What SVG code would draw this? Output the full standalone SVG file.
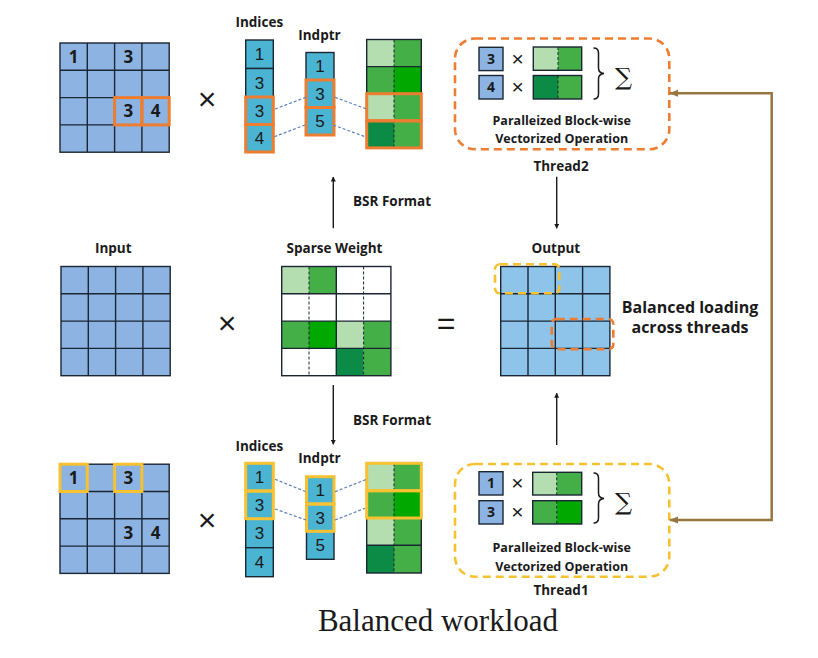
<svg xmlns="http://www.w3.org/2000/svg" width="818" height="658" viewBox="0 0 818 658">
<style>
.bg{fill:#ffffff}
.ln{stroke:#1b2633;stroke-width:1.4;fill:none}
.dl{stroke:#1b2633;stroke-width:1;stroke-dasharray:3 2;fill:none}
.blue{fill:#8DB3E2}
.out{fill:#8EC3EA}
.cyan{fill:#4BB4D2;stroke:#1b2633;stroke-width:1.4}
.L{fill:#B4DEAF}.M{fill:#45AF47}.B{fill:#00A800}.D{fill:#0B8B45}.W{fill:#ffffff}
.hlo{fill:none;stroke:#ED7D31;stroke-width:3}
.hly{fill:none;stroke:#F7C131;stroke-width:3}
.lbl{font-family:"Open Sans","Noto Sans",sans-serif;font-weight:bold;font-size:13.5px;fill:#1a1a1a;text-anchor:middle}
.num{font-family:"Open Sans","Noto Sans",sans-serif;font-weight:bold;font-size:17px;fill:#1a1a1a;text-anchor:middle}
.tn{font-family:"Open Sans","Noto Sans",sans-serif;font-weight:bold;font-size:14px;fill:#1a1a1a;text-anchor:middle}
.idx{font-family:"Liberation Sans",Arial,sans-serif;font-size:17px;fill:#1a1a1a;text-anchor:middle}
.sym{font-family:"Liberation Sans",Arial,sans-serif;fill:#1a1a1a;text-anchor:middle}
.big{font-family:"Open Sans","Noto Sans",sans-serif;font-weight:bold;font-size:16px;fill:#1a1a1a;text-anchor:middle}
.op{font-family:"Open Sans","Noto Sans",sans-serif;font-weight:bold;font-size:12.5px;fill:#1a1a1a;text-anchor:middle}
.cap{font-family:"Liberation Serif","Times New Roman",serif;font-size:31px;fill:#1a1a1a;text-anchor:middle}
.dc{stroke:#5A82BE;stroke-width:1.2;stroke-dasharray:3 2;fill:none}
.arr{stroke:#1a1a1a;stroke-width:1.4;fill:none;marker-end:url(#ah)}
.brown{stroke:#97773F;stroke-width:2.5;fill:none;marker-start:url(#bh);marker-end:url(#bh)}
.tbo{fill:none;stroke:#ED7D31;stroke-width:2.6;stroke-dasharray:8 5}
.tby{fill:none;stroke:#F7C131;stroke-width:2.6;stroke-dasharray:8 5}
.sq{fill:#8DB3E2;stroke:#1b2633;stroke-width:1.4}
.gb{fill:none;stroke:#1b2633;stroke-width:1.4}
</style>
<defs>
<g id="grid4"><path class="ln" d="M27.3 0V109.2M54.6 0V109.2M81.9 0V109.2M0 27.3H109.2M0 54.6H109.2M0 81.9H109.2"/><rect class="ln" width="109.2" height="109.2"/></g>
<marker id="ah" viewBox="0 0 10 10" refX="9" refY="5" markerWidth="5" markerHeight="5" markerUnits="userSpaceOnUse" orient="auto"><path d="M0 0L10 5L0 10z" fill="#1a1a1a"/></marker>
<marker id="bh" viewBox="0 0 10 10" refX="9" refY="5" markerWidth="9" markerHeight="9" markerUnits="userSpaceOnUse" orient="auto-start-reverse"><path d="M0 1L10 5L0 9z" fill="#97773F"/></marker>
</defs>
<rect class="bg" width="818" height="658"/>

<!-- Top row -->
<g id="top-matrix">
<rect class="blue" x="60" y="43" width="109.2" height="109.2"/>
<use href="#grid4" x="60" y="43"/>
<text class="num" x="73.6" y="62.7">1</text>
<text class="num" x="128.3" y="62.7">3</text>
<text class="num" x="128.3" y="117.3">3</text>
<text class="num" x="155.6" y="117.3">4</text>
<rect class="hlo" x="114.6" y="97.6" width="27.3" height="27.3"/>
<rect class="hlo" x="141.9" y="97.6" width="27.3" height="27.3"/>
</g>
<text class="sym" x="207" y="110" font-size="32">×</text>

<g id="top-indices">
<text class="lbl" x="259.3" y="26.5">Indices</text>
<rect class="cyan" x="245.7" y="40" width="27.6" height="28.5"/>
<rect class="cyan" x="245.7" y="68.5" width="27.6" height="28.5"/>
<rect class="cyan" x="245.7" y="97" width="27.6" height="27.5"/>
<rect class="cyan" x="245.7" y="124.5" width="27.6" height="27.5"/>
<text class="idx" x="259.5" y="60.3">1</text>
<text class="idx" x="259.5" y="88.8">3</text>
<text class="idx" x="259.5" y="116.8">3</text>
<text class="idx" x="259.5" y="144.3">4</text>
<rect class="hlo" x="245.7" y="97" width="27.6" height="27.5"/>
<rect class="hlo" x="245.7" y="124.5" width="27.6" height="27.5"/>
</g>
<g id="top-indptr">
<text class="lbl" x="319.5" y="39.7">Indptr</text>
<rect class="cyan" x="306" y="52.5" width="28" height="27.5"/>
<rect class="cyan" x="306" y="80" width="28" height="27.5"/>
<rect class="cyan" x="306" y="107.5" width="28" height="27.5"/>
<text class="idx" x="320" y="72.3">1</text>
<text class="idx" x="320" y="99.8">3</text>
<text class="idx" x="320" y="127.3">5</text>
<rect class="hlo" x="306" y="80" width="28" height="27.5"/>
<rect class="hlo" x="306" y="107.5" width="28" height="27.5"/>
</g>
<g id="top-blocks">
<rect class="L" x="366.7" y="39.5" width="27.3" height="27.1"/><rect class="M" x="394" y="39.5" width="27.3" height="27.1"/>
<rect class="M" x="366.7" y="66.6" width="27.3" height="27.1"/><rect class="B" x="394" y="66.6" width="27.3" height="27.1"/>
<rect class="L" x="366.7" y="93.7" width="27.3" height="27.1"/><rect class="M" x="394" y="93.7" width="27.3" height="27.1"/>
<rect class="D" x="366.7" y="120.8" width="27.3" height="27.1"/><rect class="M" x="394" y="120.8" width="27.3" height="27.1"/>
<path class="ln" d="M366.7 66.6H421.3M366.7 93.7H421.3M366.7 120.8H421.3"/>
<path class="dl" d="M394 39.5V147.9"/>
<rect class="ln" x="366.7" y="39.5" width="54.6" height="108.4"/>
<rect class="hlo" x="366.7" y="93.7" width="54.6" height="27.1"/>
<rect class="hlo" x="366.7" y="120.8" width="54.6" height="27.1"/>
</g>

<g id="thread2">
<rect class="tbo" x="455" y="38.5" width="214.3" height="110.8" rx="20"/>
<rect class="sq" x="479" y="47.3" width="24" height="23.3"/>
<rect class="sq" x="479" y="75.5" width="24" height="23.5"/>
<text class="tn" x="491" y="64.3">3</text>
<text class="tn" x="491" y="92.3">4</text>
<text class="sym" x="517.7" y="66" font-size="21">×</text>
<text class="sym" x="517.7" y="94" font-size="21">×</text>
<rect class="L" x="533.3" y="47" width="24.7" height="23.3"/><rect class="M" x="558" y="47" width="23.7" height="23.3"/>
<rect class="D" x="533.3" y="75.5" width="24.7" height="23.5"/><rect class="M" x="558" y="75.5" width="23.7" height="23.5"/>
<path class="dl" d="M558 47V70.3M558 75.5V99"/>
<rect class="gb" x="533.3" y="47" width="48.4" height="23.3"/>
<rect class="gb" x="533.3" y="75.5" width="48.4" height="23.5"/>
<path d="M593.5 48Q598.5 48 598.5 53V68Q598.5 73 604 73.5Q598.5 74 598.5 79V94Q598.5 99 593.5 99" fill="none" stroke="#1a1a1a" stroke-width="1.5"/>
<text x="623.5" y="85" font-family="'DejaVu Serif','Liberation Serif',serif" font-size="24" fill="#1a1a1a" text-anchor="middle">∑</text>
<text class="op" x="561.7" y="124.5">Paralleized Block-wise</text>
<text class="op" x="561.7" y="143">Vectorized Operation</text>
<text class="lbl" x="561" y="170.5">Thread2</text>
</g>

<!-- Middle row -->
<g id="input">
<text class="lbl" x="113.3" y="253">Input</text>
<rect class="blue" x="61" y="266.5" width="109.2" height="109.2"/>
<use href="#grid4" x="61" y="266.5"/>
</g>
<text class="sym" x="227" y="334" font-size="32">×</text>
<g id="sparse-weight">
<text class="lbl" x="334.5" y="253">Sparse Weight</text>
<rect class="W" x="281.7" y="266.5" width="109.2" height="109.2"/>
<rect class="L" x="281.7" y="266.5" width="27.3" height="27.3"/><rect class="M" x="309" y="266.5" width="27.3" height="27.3"/>
<rect class="M" x="281.7" y="321.1" width="27.3" height="27.3"/><rect class="B" x="309" y="321.1" width="27.3" height="27.3"/>
<rect class="L" x="336.3" y="321.1" width="27.3" height="27.3"/><rect class="M" x="363.6" y="321.1" width="27.3" height="27.3"/>
<rect class="D" x="336.3" y="348.4" width="27.3" height="27.3"/><rect class="M" x="363.6" y="348.4" width="27.3" height="27.3"/>
<path class="ln" d="M336.3 266.5V375.7M281.7 293.8H390.9M281.7 321.1H390.9M281.7 348.4H390.9"/>
<path class="dl" d="M309 266.5V375.7M363.6 266.5V375.7"/>
<rect class="ln" x="281.7" y="266.5" width="109.2" height="109.2"/>
</g>
<text class="sym" x="446" y="334" font-size="32">=</text>
<g id="output">
<text class="lbl" x="555.8" y="253">Output</text>
<rect class="out" x="500.7" y="266.5" width="109.2" height="109.2"/>
<use href="#grid4" x="500.7" y="266.5"/>
<rect class="tby" x="495" y="264.3" width="64.3" height="29" rx="5" stroke-width="2.5" stroke-dasharray="7 4"/>
<rect class="tbo" x="551.7" y="319" width="61.6" height="30.3" rx="5" stroke-width="2.5" stroke-dasharray="7 4"/>
</g>
<g id="balanced-note">
<text class="big" x="690" y="313">Balanced loading</text>
<text class="big" x="690" y="333">across threads</text>
</g>

<!-- Bottom row -->
<g id="bottom-matrix">
<rect class="blue" x="60" y="464.2" width="109.2" height="109.2"/>
<use href="#grid4" x="60" y="464.2"/>
<text class="num" x="73.6" y="483.9">1</text>
<text class="num" x="128.3" y="483.9">3</text>
<text class="num" x="128.3" y="538.5">3</text>
<text class="num" x="155.6" y="538.5">4</text>
<rect class="hly" x="60" y="464.2" width="27.3" height="27.3"/>
<rect class="hly" x="114.6" y="464.2" width="27.3" height="27.3"/>
</g>
<text class="sym" x="207" y="531" font-size="32">×</text>

<g id="bottom-indices">
<text class="lbl" x="259.3" y="451.4">Indices</text>
<rect class="cyan" x="245.7" y="463.3" width="27.6" height="27.7"/>
<rect class="cyan" x="245.7" y="491" width="27.6" height="27.7"/>
<rect class="cyan" x="245.7" y="518.7" width="27.6" height="29"/>
<rect class="cyan" x="245.7" y="547.7" width="27.6" height="29"/>
<text class="idx" x="259.5" y="483.3">1</text>
<text class="idx" x="259.5" y="511">3</text>
<text class="idx" x="259.5" y="539.3">3</text>
<text class="idx" x="259.5" y="568.3">4</text>
<rect class="hly" x="245.7" y="463.3" width="27.6" height="27.7"/>
<rect class="hly" x="245.7" y="491" width="27.6" height="27.7"/>
</g>
<g id="bottom-indptr">
<text class="lbl" x="319.5" y="463">Indptr</text>
<rect class="cyan" x="306.5" y="476.7" width="27.5" height="27.3"/>
<rect class="cyan" x="306.5" y="504" width="27.5" height="27.3"/>
<rect class="cyan" x="306.5" y="531.3" width="27.5" height="28"/>
<text class="idx" x="320.2" y="496.3">1</text>
<text class="idx" x="320.2" y="523.6">3</text>
<text class="idx" x="320.2" y="551.3">5</text>
<rect class="hly" x="306.5" y="476.7" width="27.5" height="27.3"/>
<rect class="hly" x="306.5" y="504" width="27.5" height="27.3"/>
</g>
<g id="bottom-blocks">
<rect class="L" x="366.7" y="463.3" width="27.3" height="27.4"/><rect class="M" x="394" y="463.3" width="27.3" height="27.4"/>
<rect class="M" x="366.7" y="490.7" width="27.3" height="27.3"/><rect class="B" x="394" y="490.7" width="27.3" height="27.3"/>
<rect class="L" x="366.7" y="518" width="27.3" height="27.3"/><rect class="M" x="394" y="518" width="27.3" height="27.3"/>
<rect class="D" x="366.7" y="545.3" width="27.3" height="27.7"/><rect class="M" x="394" y="545.3" width="27.3" height="27.7"/>
<path class="ln" d="M366.7 490.7H421.3M366.7 518H421.3M366.7 545.3H421.3"/>
<path class="dl" d="M394 463.3V573"/>
<rect class="ln" x="366.7" y="463.3" width="54.6" height="109.7"/>
<rect class="hly" x="366.7" y="463.3" width="54.6" height="27.4"/>
<rect class="hly" x="366.7" y="490.7" width="54.6" height="27.3"/>
</g>

<g id="thread1">
<rect class="tby" x="455" y="464" width="214.3" height="112.7" rx="20"/>
<rect class="sq" x="479" y="471.7" width="24" height="23.3"/>
<rect class="sq" x="479" y="500.7" width="24" height="23.3"/>
<text class="tn" x="491" y="488.3">1</text>
<text class="tn" x="491" y="517.3">3</text>
<text class="sym" x="517.3" y="490" font-size="21">×</text>
<text class="sym" x="517.3" y="519" font-size="21">×</text>
<rect class="L" x="532.7" y="472.3" width="24" height="22.7"/><rect class="M" x="556.7" y="472.3" width="25" height="22.7"/>
<rect class="M" x="532.7" y="500.7" width="24" height="23.3"/><rect class="B" x="556.7" y="500.7" width="25" height="23.3"/>
<path class="dl" d="M556.7 472.3V495M556.7 500.7V524"/>
<rect class="gb" x="532.7" y="472.3" width="49" height="22.7"/>
<rect class="gb" x="532.7" y="500.7" width="49" height="23.3"/>
<path d="M593.5 473Q598.5 473 598.5 478V493Q598.5 498 604 498.5Q598.5 499 598.5 504V518Q598.5 523 593.5 523" fill="none" stroke="#1a1a1a" stroke-width="1.5"/>
<text x="623.5" y="510" font-family="'DejaVu Serif','Liberation Serif',serif" font-size="24" fill="#1a1a1a" text-anchor="middle">∑</text>
<text class="op" x="561.7" y="551.8">Paralleized Block-wise</text>
<text class="op" x="561.7" y="570.5">Vectorized Operation</text>
<text class="lbl" x="561" y="595">Thread1</text>
</g>

<g id="connectors">
<path class="dc" d="M275 109L306 97.3M274.3 136.7L305 125M335 97.3L366.7 109M333.3 125L365 136.7"/>
<path class="dc" d="M275 479.3L306 491.7M275 509L306 520M335 491.7L366.7 479.3M335 520L365 508.3"/>
<path class="arr" d="M333.3 228.3V177"/>
<text class="lbl" x="392" y="206.4">BSR Format</text>
<path class="arr" d="M556.7 176.7V228.3"/>
<path class="arr" d="M333.3 385V444.3"/>
<text class="lbl" x="392" y="424.7">BSR Format</text>
<path class="arr" d="M556.7 445V393.3"/>
<path class="brown" d="M670 93.3H771.7V520H670"/>
</g>
<text class="cap" x="438" y="631">Balanced workload</text>
</svg>
